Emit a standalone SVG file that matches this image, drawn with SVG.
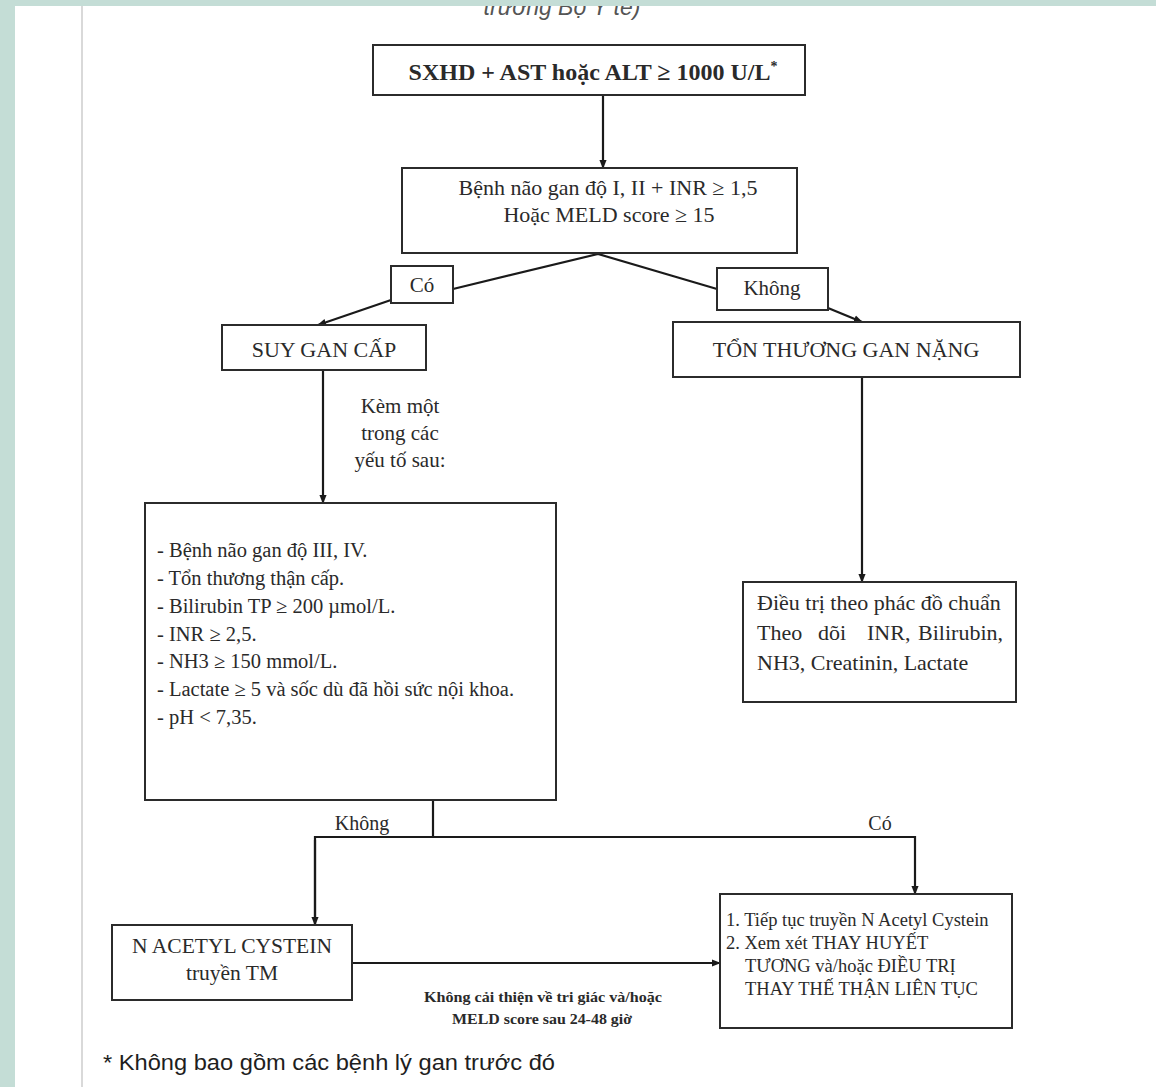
<svg xmlns="http://www.w3.org/2000/svg" width="1156" height="1087" viewBox="0 0 1156 1087">
  <defs>
    <marker id="arrow" viewBox="0 0 10 10" refX="9" refY="5" markerWidth="9" markerHeight="9" markerUnits="userSpaceOnUse" orient="auto">
      <path d="M0,1 L10,5 L0,9 Z" fill="#1a1a1a"/>
    </marker>
    <style>
      .box { fill: #ffffff; stroke: #2b2b2b; stroke-width: 2; }
      .wire { fill: none; stroke: #1a1a1a; stroke-width: 2.2; }
      .t { font-family: "Liberation Serif", "Times New Roman", serif; fill: #2a2a2a; }
      .c { text-anchor: middle; }
      .s22 { font-size: 22px; }
      .s21 { font-size: 21px; }
      .s20 { font-size: 20px; }
      .li { font-size: 20.5px; }
      .s18 { font-size: 18.5px; }
      .cap { font-size: 15px; font-weight: bold; }
      .sans { font-family: "Liberation Sans", Arial, sans-serif; }
    </style>
  </defs>

  <!-- page -->
  <rect x="0" y="0" width="1156" height="1087" fill="#ffffff"/>
  <line x1="82" y1="0" x2="82" y2="1087" stroke="#d9d9d9" stroke-width="2"/>
  <text x="562" y="15" class="sans" font-size="23" font-style="italic" fill="#555555" text-anchor="middle">trường Bộ Y tế)</text>
  <rect x="0" y="0" width="1156" height="6" fill="#c4ddd6"/>
  <rect x="0" y="0" width="15" height="1087" fill="#c4ddd6"/>

  <!-- connectors -->
  <g id="connectors">
    <line class="wire" x1="603" y1="95" x2="603" y2="168" marker-end="url(#arrow)"/>
    <polyline class="wire" points="453,289 598,254 717,289"/>
    <line class="wire" x1="391" y1="300" x2="318" y2="325" marker-end="url(#arrow)"/>
    <line class="wire" x1="828" y1="308" x2="862" y2="322" marker-end="url(#arrow)"/>
    <line class="wire" x1="323" y1="370" x2="323" y2="503" marker-end="url(#arrow)"/>
    <line class="wire" x1="862" y1="377" x2="862" y2="582" marker-end="url(#arrow)"/>
    <line class="wire" x1="433" y1="800" x2="433" y2="837"/>
    <polyline class="wire" stroke-width="3" points="315,925 315,837 915,837 915,894" marker-end="url(#arrow)"/>
    <line class="wire" x1="315" y1="840" x2="315" y2="925" marker-end="url(#arrow)"/>
    <line class="wire" x1="352" y1="963" x2="720" y2="963" marker-end="url(#arrow)"/>
    <text class="t c s20" x="362" y="830">Không</text>
    <text class="t c s20" x="880" y="830">Có</text>
    <text class="t c cap" x="543" y="1002" textLength="238" lengthAdjust="spacingAndGlyphs">Không cải thiện về tri giác và/hoặc</text>
    <text class="t c cap" x="542" y="1024" textLength="180" lengthAdjust="spacingAndGlyphs">MELD score sau 24-48 giờ</text>
  </g>

  <!-- nodes -->
  <g id="start">
    <rect class="box" x="373" y="45" width="432" height="50"/>
    <text class="t c" x="593" y="80" font-size="24" font-weight="bold">SXHD + AST hoặc ALT ≥ 1000 U/L<tspan dy="-9" font-size="14">*</tspan></text>
  </g>

  <g id="criteria">
    <rect class="box" x="402" y="168" width="395" height="85"/>
    <text class="t c s22" x="608" y="195">Bệnh não gan độ I, II + INR ≥ 1,5</text>
    <text class="t c s22" x="609" y="222">Hoặc MELD score ≥ 15</text>
  </g>

  <g id="yes1">
    <rect class="box" x="391" y="266" width="62" height="37"/>
    <text class="t c s21" x="422" y="292">Có</text>
  </g>

  <g id="no1">
    <rect class="box" x="717" y="268" width="111" height="42"/>
    <text class="t c s21" x="772" y="295">Không</text>
  </g>

  <g id="acute-failure">
    <rect class="box" x="222" y="325" width="204" height="45"/>
    <text class="t c s22" x="324" y="357">SUY GAN CẤP</text>
  </g>

  <g id="severe-injury">
    <rect class="box" x="673" y="322" width="347" height="55"/>
    <text class="t c s22" x="846" y="357">TỔN THƯƠNG GAN NẶNG</text>
  </g>

  <g id="condition-note">
    <text class="t c s21" x="400" y="413">Kèm một</text>
    <text class="t c s21" x="400" y="440">trong các</text>
    <text class="t c s21" x="400" y="467">yếu tố sau:</text>
  </g>

  <g id="factors">
    <rect class="box" x="145" y="503" width="411" height="297"/>
    <text class="t li" x="157" y="557">- Bệnh não gan độ III, IV.</text>
    <text class="t li" x="157" y="585">- Tổn thương thận cấp.</text>
    <text class="t li" x="157" y="613">- Bilirubin TP ≥ 200 µmol/L.</text>
    <text class="t li" x="157" y="641">- INR ≥ 2,5.</text>
    <text class="t li" x="157" y="668">- NH3 ≥ 150 mmol/L.</text>
    <text class="t li" x="157" y="696">- Lactate ≥ 5 và sốc dù đã hồi sức nội khoa.</text>
    <text class="t li" x="157" y="724">- pH &lt; 7,35.</text>
  </g>

  <g id="standard-care">
    <rect class="box" x="743" y="582" width="273" height="120"/>
    <text class="t s22" x="757" y="610">Điều trị theo phác đồ chuẩn</text>
    <text class="t s22" y="640"><tspan x="757">Theo</tspan><tspan x="818">dõi</tspan><tspan x="867">INR,</tspan><tspan x="1003" text-anchor="end">Bilirubin,</tspan></text>
    <text class="t s22" x="757" y="670">NH3, Creatinin, Lactate</text>
  </g>

  <g id="nac">
    <rect class="box" x="112" y="925" width="240" height="75"/>
    <text class="t c" font-size="21.5" x="232" y="953">N ACETYL CYSTEIN</text>
    <text class="t c" font-size="21.5" x="232" y="980">truyền TM</text>
  </g>

  <g id="escalation">
    <rect class="box" x="720" y="894" width="292" height="134"/>
    <text class="t s18" x="726" y="926">1. Tiếp tục truyền N Acetyl Cystein</text>
    <text class="t s18" x="726" y="949">2. Xem xét THAY HUYẾT</text>
    <text class="t s18" x="745" y="972">TƯƠNG và/hoặc ĐIỀU TRỊ</text>
    <text class="t s18" x="745" y="995">THAY THẾ THẬN LIÊN  TỤC</text>
  </g>

  <text x="103" y="1070" class="sans" font-size="22" fill="#1e1e1e" textLength="452" lengthAdjust="spacingAndGlyphs">* Không bao gồm các bệnh lý gan trước đó</text>
</svg>
